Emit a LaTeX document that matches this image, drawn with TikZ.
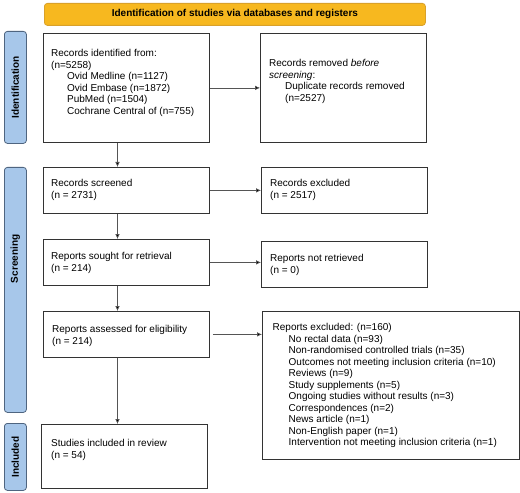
\documentclass[tikz,border=0pt]{standalone}
\usepackage{fontspec}
\setmainfont{Liberation Sans}
\usetikzlibrary{arrows.meta}
\definecolor{bannerfill}{HTML}{F7B81F}
\definecolor{bannerdraw}{HTML}{D9A12A}
\definecolor{sidefill}{HTML}{A7C7EA}
\definecolor{sidedraw}{HTML}{4F6580}
\definecolor{boxdraw}{HTML}{333333}
\definecolor{arrowgray}{HTML}{555555}
\tikzset{
  box/.style={draw=boxdraw, line width=0.8bp, rectangle, anchor=north west, inner sep=0pt},
  txt/.style={anchor=north west, inner sep=0pt, align=left, font=\fontsize{10bp}{11.5bp}\selectfont},
  side/.style={draw=sidedraw, fill=sidefill, line width=0.8bp, rounded corners=3bp, rectangle, anchor=north west, inner sep=0pt, minimum width=22bp},
  sidelabel/.style={rotate=90, font=\fontsize{10bp}{12bp}\selectfont\bfseries, inner sep=0pt},
  banner/.style={draw=bannerdraw, fill=bannerfill, line width=0.8bp, rounded corners=3bp, rectangle, anchor=north west, inner sep=0pt, minimum width=381bp, minimum height=22bp, font=\fontsize{10bp}{12bp}\selectfont\bfseries},
  arr/.style={draw=arrowgray, line width=0.6bp, -{Latex[length=5bp,width=4.5bp,fill=black]}}
}
\newcommand{\ind}{\hspace*{16bp}}
\begin{document}
\begin{tikzpicture}[x=1bp,y=-1bp]
\useasboundingbox (0,0) rectangle (520,493);
\fill[white] (0,0) rectangle (520,493);

% banner
\node[banner] (ban) at (44,3) {Identification of studies via databases and registers};

% side bars
\node[side, minimum height=112bp] (sid) at (4,31) {};
\node[sidelabel] (sidl) at (sid.center) {Identification};
\node[side, minimum height=245bp] (sscr) at (4,167) {};
\node[sidelabel] (sscrl) at ([yshift=31bp]sscr.center) {Screening};
\node[side, minimum height=67bp] (sinc) at (4,423) {};
\node[sidelabel] (sincl) at (sinc.center) {Included};

% boxes
\node[box, minimum width=166.5bp, minimum height=109bp] (b1) at (42.5,33) {};
\node[box, minimum width=166bp, minimum height=109bp] (b2) at (260,33) {};
\node[box, minimum width=166.5bp, minimum height=46bp] (b3) at (42.5,167) {};
\node[box, minimum width=166bp, minimum height=46bp] (b4) at (261,167) {};
\node[box, minimum width=166.5bp, minimum height=46bp] (b5) at (42.5,239) {};
\node[box, minimum width=166bp, minimum height=46bp] (b6) at (261,241) {};
\node[box, minimum width=166bp, minimum height=46bp] (b7) at (43,311) {};
\node[box, minimum width=257bp, minimum height=148bp] (b8) at (262,311) {};
\node[box, minimum width=166bp, minimum height=64bp] (b9) at (41,424) {};

% texts
\node[txt] (t1) at ([xshift=8.5bp,yshift=-16.5bp]b1.north west) {Records identified from:\\(n=5258)\\\ind Ovid Medline (n=1127)\\\ind Ovid Embase (n=1872)\\\ind PubMed (n=1504)\\\ind Cochrane Central of (n=755)};
\node[txt] (t2) at ([xshift=9bp,yshift=-26.5bp]b2.north west) {Records removed \emph{before}\\\emph{screening}:\\\ind Duplicate records removed\\\ind (n=2527)};
\node[txt] (t3) at ([xshift=8.5bp,yshift=-12.5bp]b3.north west) {Records screened\\(n = 2731)};
\node[txt] (t4) at ([xshift=9bp,yshift=-12.5bp]b4.north west) {Records excluded\\(n = 2517)};
\node[txt] (t5) at ([xshift=8.5bp,yshift=-13.5bp]b5.north west) {Reports sought for retrieval\\(n = 214)};
\node[txt] (t6) at ([xshift=9bp,yshift=-13.5bp]b6.north west) {Reports not retrieved\\(n = 0)};
\node[txt] (t7) at ([xshift=9bp,yshift=-14.5bp]b7.north west) {Reports assessed for eligibility\\(n = 214)};
\node[txt] (t8) at ([xshift=10.5bp,yshift=-12.5bp]b8.north west) {Reports excluded: (n=160)\\
\ind No rectal data (n=93)\\
\ind Non-randomised controlled trials (n=35)\\
\ind Outcomes not meeting inclusion criteria (n=10)\\
\ind Reviews (n=9)\\
\ind Study supplements (n=5)\\
\ind Ongoing studies without results (n=3)\\
\ind Correspondences (n=2)\\
\ind News article (n=1)\\
\ind Non-English paper (n=1)\\
\ind Intervention not meeting inclusion criteria (n=1)};
\node[txt] (t9) at ([xshift=10bp,yshift=-15.5bp]b9.north west) {Studies included in review\\(n = 54)};

% horizontal arrows
\draw[arr] (b1.east) -- (b1.east -| b2.west);
\draw[arr] (b3.east) -- (b3.east -| b4.west);
\draw[arr] (b5.east) -- (b5.east -| b6.west);
\draw[arr] ([xshift=3bp]b7.east) -- (b7.east -| b8.west);

% vertical arrows
\draw[arr] ([xshift=75bp]b1.south west) -- ([xshift=75bp]b3.north west);
\draw[arr] ([xshift=75bp]b3.south west) -- ([xshift=75bp]b5.north west);
\draw[arr] ([xshift=75bp]b5.south west) -- ([xshift=74.5bp]b7.north west);
\draw[arr] ([xshift=74.5bp]b7.south west) -- ([xshift=76.5bp]b9.north west);
\end{tikzpicture}
\end{document}
